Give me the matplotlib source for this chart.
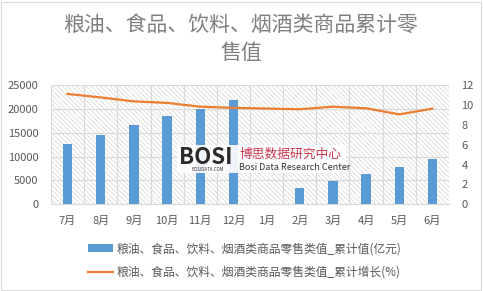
import numpy as np
import matplotlib
matplotlib.use("Agg")
import matplotlib.pyplot as plt
from matplotlib.patches import Rectangle

plt.rcParams['font.family'] = ['Noto Sans CJK SC', 'DejaVu Sans']
plt.rcParams['hatch.linewidth'] = 0.5
plt.rcParams['hatch.color'] = '#d0d0d0'

title = "粮油、食品、饮料、烟酒类商品累计零\n售值"
months = ["7月", "8月", "9月", "10月", "11月", "12月", "1月", "2月", "3月", "4月", "5月", "6月"]
values = [12600, 14500, 16600, 18500, 19950, 21850, np.nan, 3480, 4880, 6350, 7820, 9490]
growth = [11.1, 10.75, 10.35, 10.2, 9.82, 9.7, np.nan, 9.56, 9.82, 9.66, 9.05, 9.62]
bar_label = "粮油、食品、饮料、烟酒类商品零售类值_累计值(亿元)"
line_label = "粮油、食品、饮料、烟酒类商品零售类值_累计增长(%)"
left_ticks = [0, 5000, 10000, 15000, 20000, 25000]
right_ticks = [0, 2, 4, 6, 8, 10, 12]

W, H = 483, 291
fig = plt.figure(figsize=(W / 100, H / 100), dpi=100)
fig.patches.append(Rectangle((1 / W, 1 / H), 1 - 3 / W, 1 - 3 / H, transform=fig.transFigure,
                             fill=False, edgecolor='#d9d9d9', linewidth=0.8))

ax = fig.add_axes([51 / W, 1 - 204.3 / H, (449 - 51) / W, (204.3 - 85) / H])
x = np.arange(len(months))
ax.set_xlim(-0.5, len(months) - 0.5)
ax.set_ylim(0, 25000)

# hatched background
ax.add_patch(Rectangle((0, 0), 1, 1, transform=ax.transAxes, facecolor='white',
                       edgecolor='#d4d4d4', hatch='\\' * 7, linewidth=0, zorder=0))

vals = np.array(values, dtype=float)
bars = ax.bar(x, np.nan_to_num(vals), width=0.28, color='#5B9BD5', zorder=3, label=bar_label)
ax.set_yticks(left_ticks)
ax.set_xticks(x)
ax.set_xticklabels(months)
ax.set_xticks(np.arange(-0.5, len(months), 1), minor=True)
ax.grid(axis='y', color='#d9d9d9', linewidth=0.8, zorder=1)
ax.grid(axis='x', which='minor', color='#d9d9d9', linewidth=0.8, zorder=1)
ax.grid(axis='x', which='major', visible=False)
for s in ['top', 'right', 'left']:
    ax.spines[s].set_visible(False)
ax.spines['bottom'].set_color('#d9d9d9')
ax.tick_params(axis='both', which='both', length=0, labelsize=8, colors='#595959')
ax.tick_params(axis='y', pad=9)
ax.tick_params(axis='x', pad=8)

ax2 = ax.twinx()
ax2.set_ylim(0, 12)
ax2.set_yticks(right_ticks)
g = np.array(growth, dtype=float)
m = np.isfinite(g)
line, = ax2.plot(x[m], g[m], color='#ED7D31', linewidth=1.6, zorder=4, label=line_label)
for s in ['top', 'right', 'left', 'bottom']:
    ax2.spines[s].set_visible(False)
ax2.tick_params(axis='y', length=0, labelsize=8, colors='#595959', pad=9)

fig.text(241 / W, 1 - 39 / H, title, ha='center', va='center', fontsize=15,
         color='#7f7f7f', fontweight='normal', linespacing=1.35)

# watermark
fig.patches.append(Rectangle((177 / W, 1 - 173 / H), (346 - 177) / W, (173 - 145) / H,
                             transform=fig.transFigure, facecolor='white', edgecolor='none',
                             alpha=0.9, zorder=5))
fig.text(179 / W, 1 - 157 / H, "BOSI", fontsize=16, fontweight='heavy', color='#2b2b2b',
         ha='left', va='center', zorder=6)
fig.text(208 / W, 1 - 169.5 / H, "BOSIDATA.COM", fontsize=3.2, color='#333333',
         ha='center', va='center', zorder=6)
fig.text(239 / W, 1 - 154.5 / H, "博思数据研究中心", fontsize=9.2, color='#c8384f',
         ha='left', va='center', zorder=6)
fig.text(239 / W, 1 - 167 / H, "Bosi Data Research Center", fontsize=6.5, color='#333333',
         ha='left', va='center', zorder=6)

fig.legend(handles=[bars, line], labels=[bar_label, line_label], loc='center',
           bbox_to_anchor=(245 / W, 1 - 260.5 / H), frameon=False, fontsize=8.5,
           labelcolor='#595959', handlelength=2.1, handletextpad=0.3, labelspacing=0.9,
           borderpad=0.2)

fig.savefig("out.png", dpi=100)
